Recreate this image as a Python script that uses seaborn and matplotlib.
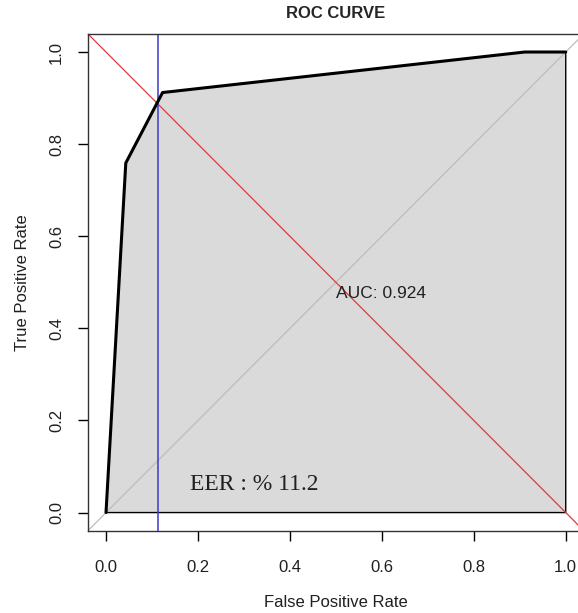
import matplotlib
matplotlib.use("Agg")
import matplotlib.pyplot as plt
import seaborn as sns
import pandas as pd

# ROC punkty
fpr = [0.0, 0.043, 0.123, 0.911, 1.0]
tpr = [0.0, 0.759, 0.912, 1.0, 1.0]
auc = 0.924
eer = 0.112

roc = pd.DataFrame({"fpr": fpr, "tpr": tpr})

sns.set_style("ticks")
plt.rcParams["font.family"] = ["Liberation Sans", "DejaVu Sans"]

fig = plt.figure(figsize=(5.78, 6.13), dpi=100)
ax = fig.add_axes([0.1516, 0.1338, 0.8590, 0.8114])
ax.set_xlim(-0.04, 1.04)
ax.set_ylim(-0.04, 1.04)

# wypelnienie pod krzywa
ax.fill(fpr + [1.0, 0.0], tpr + [0.0, 0.0], facecolor="#dadada", edgecolor="black", lw=1, zorder=1)

# przekatne
ax.plot([-0.04, 1.04], [-0.04, 1.04], color="#bdbdbd", lw=0.9, zorder=2)
ax.plot([-0.04, 1.04], [1.04, -0.04], color="#e03a3a", lw=0.9, zorder=2)
ax.axvline(eer, color="#3c3cc8", lw=1.1, zorder=2)

sns.lineplot(data=roc, x="fpr", y="tpr", color="black", lw=2.2, sort=False, ax=ax, zorder=3)

ax.text(0.5, 0.475, "AUC: %.3f" % auc, fontsize=12.5, ha="left", va="center", color="#202020", zorder=4)
ax.text(0.183, 0.062, "EER : %% %.1f" % (eer * 100), fontsize=17, family="Liberation Serif",
        ha="left", va="center", color="#202020", zorder=4)

ticks = [0.0, 0.2, 0.4, 0.6, 0.8, 1.0]
ax.set_xticks(ticks)
ax.set_yticks(ticks)
ax.set_xticklabels(["%.1f" % t for t in ticks])
ax.set_yticklabels(["%.1f" % t for t in ticks], rotation=90, va="center")
ax.tick_params(axis="both", length=7, width=1, labelsize=12, color="black", labelcolor="#202020")
ax.tick_params(axis="x", pad=14)
ax.tick_params(axis="y", pad=10)
for s in ax.spines.values():
    s.set_color("#333333")
    s.set_linewidth(1)

ax.set_title("ROC CURVE", fontsize=12, fontweight="bold", pad=11)
ax.set_xlabel("False Positive Rate", fontsize=12, labelpad=14, color="#202020")
ax.set_ylabel("True Positive Rate", fontsize=12, labelpad=14, color="#202020")

fig.savefig("out.png", dpi=100)
